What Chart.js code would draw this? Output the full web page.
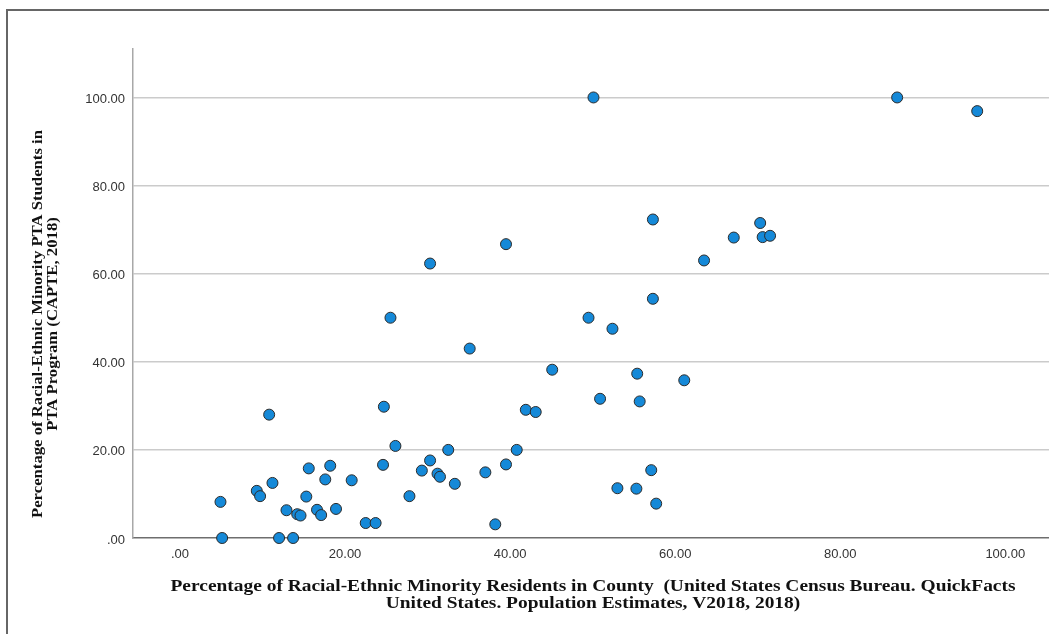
<!DOCTYPE html>
<html>
<head>
<meta charset="utf-8">
<script src="https://cdn.jsdelivr.net/npm/chart.js@4.4.1/dist/chart.umd.min.js"></script>
<style>
  html, body { margin: 0; padding: 0; background: #fff; }
</style>
</head>
<body>
<canvas id="scatter" width="1049" height="634"></canvas>
<script>
// x: % minority residents in county, y: % minority PTA students
const countyMinority = [
  4.9, 5.1, 9.3, 9.7, 11.2, 10.8, 12.0, 13.7, 12.9, 14.2,
  14.6, 15.3, 15.6, 17.6, 18.2, 16.6, 17.1, 18.9, 20.8, 22.5,
  23.7, 24.7, 26.1, 24.6, 27.8, 29.3, 30.3, 32.5, 31.2, 31.5,
  33.3, 37.0, 38.2, 39.5, 40.8, 41.9, 43.1, 50.9, 55.7, 61.1,
  53.0, 55.3, 57.1, 57.7, 30.3, 39.5, 25.5, 35.1, 57.3, 70.3,
  67.1, 70.6, 71.5, 63.5, 57.3, 49.5, 52.4, 45.1, 55.4, 86.9,
  96.6, 50.1
];
const ptaMinority = [
  8.2, 0, 10.7, 9.5, 12.5, 28.0, 0, 0, 6.3, 5.4,
  5.1, 9.4, 15.8, 13.3, 16.4, 6.4, 5.2, 6.6, 13.1, 3.4,
  3.4, 29.8, 20.9, 16.6, 9.5, 15.3, 17.6, 20.0, 14.6, 13.9,
  12.3, 14.9, 3.1, 16.7, 20.0, 29.1, 28.6, 31.6, 31.0, 35.8,
  11.3, 11.2, 15.4, 7.8, 62.3, 66.7, 50.0, 43.0, 72.3, 71.5,
  68.2, 68.3, 68.6, 63.0, 54.3, 50.0, 47.5, 38.2, 37.3, 100,
  96.9, 100
];
const xTicks = [0, 20, 40, 60, 80, 100];
const yTicks = [0, 20, 40, 60, 80, 100];
const xTitle = [
  "Percentage of Racial-Ethnic Minority Residents in County  (United States Census Bureau. QuickFacts",
  "United States. Population Estimates, V2018, 2018)"
];
const yTitle = [
  "Percentage of Racial-Ethnic Minority PTA Students in",
  "PTA Program (CAPTE, 2018)"
];

const points = countyMinority.map((x, i) => ({ x: x, y: ptaMinority[i] }));
const fmt = (v) => (v === 0 ? ".00" : v.toFixed(2));

// draws the outer frame and the two axis titles
const frameAndTitles = {
  id: "frameAndTitles",
  beforeDraw(chart) {
    const ctx = chart.ctx;
    ctx.save();
    ctx.strokeStyle = "#666";
    ctx.lineWidth = 2;
    ctx.beginPath();
    ctx.moveTo(7, 634);
    ctx.lineTo(7, 10);
    ctx.lineTo(1049, 10);
    ctx.stroke();
    ctx.restore();
  },
  afterDraw(chart) {
    const { ctx } = chart;
    ctx.save();
    ctx.fillStyle = "#111";
    ctx.textAlign = "center";
    ctx.textBaseline = "middle";

    ctx.font = "bold 16.5px 'Liberation Serif'";
    let sx = 845 / ctx.measureText(xTitle[0]).width;
    xTitle.forEach((line, i) => {
      ctx.save();
      ctx.translate(593, 587 + i * 17);
      ctx.scale(sx, 1);
      ctx.fillText(line, 0, 0);
      ctx.restore();
    });

    ctx.font = "bold 14.5px 'Liberation Serif'";
    sx = 388 / ctx.measureText(yTitle[0]).width;
    yTitle.forEach((line, i) => {
      ctx.save();
      ctx.translate(38 + i * 15, 324);
      ctx.rotate(-Math.PI / 2);
      ctx.scale(sx, 1);
      ctx.fillText(line, 0, 0);
      ctx.restore();
    });
    ctx.restore();
  }
};

new Chart(document.getElementById("scatter"), {
  type: "scatter",
  data: {
    datasets: [
      {
        data: points,
        backgroundColor: "#1589d8",
        borderColor: "#2b2b2b",
        borderWidth: 1,
        pointRadius: 5.5,
        pointHoverRadius: 5.5,
        clip: false,
      },
    ],
  },
  options: {
    responsive: false,
    animation: false,
    devicePixelRatio: 1,
    layout: { autoPadding: false, padding: { top: 49, right: 0, bottom: 0, left: 0 } },
    plugins: {
      legend: { display: false },
      tooltip: { enabled: false },
    },
    scales: {
      x: {
        type: "linear",
        min: -5.7,
        max: 105.3,
        afterBuildTicks: (axis) => {
          axis.ticks = xTicks.map((v) => ({ value: v }));
        },
        afterFit: (axis) => {
          axis.height = 96;
          axis.paddingLeft = 0;
          axis.paddingRight = 0;
        },
        grid: { display: false, drawTicks: false },
        border: { display: true, color: "#6e6e6e", width: 1.5 },
        ticks: {
          callback: fmt,
          padding: 9,
          maxRotation: 0,
          autoSkip: false,
          color: "#333",
          font: { family: "'Liberation Sans'", size: 13 },
        },
      },
      y: {
        type: "linear",
        min: 0,
        max: 111,
        afterBuildTicks: (axis) => {
          axis.ticks = yTicks.map((v) => ({ value: v }));
        },
        afterFit: (axis) => {
          axis.width = 133;
          axis.paddingTop = 0;
          axis.paddingBottom = 0;
        },
        grid: {
          display: true,
          drawTicks: false,
          color: (ctx) => (ctx.tick && ctx.tick.value === 0 ? "rgba(0,0,0,0)" : "#cbcbcb"),
          lineWidth: 1.5,
        },
        border: { display: true, color: "#a8a8a8", width: 1.5 },
        ticks: {
          callback: fmt,
          padding: 8,
          labelOffset: 2,
          autoSkip: false,
          color: "#333",
          font: { family: "'Liberation Sans'", size: 13 },
        },
      },
    },
  },
  plugins: [frameAndTitles],
});
</script>
</body>
</html>
